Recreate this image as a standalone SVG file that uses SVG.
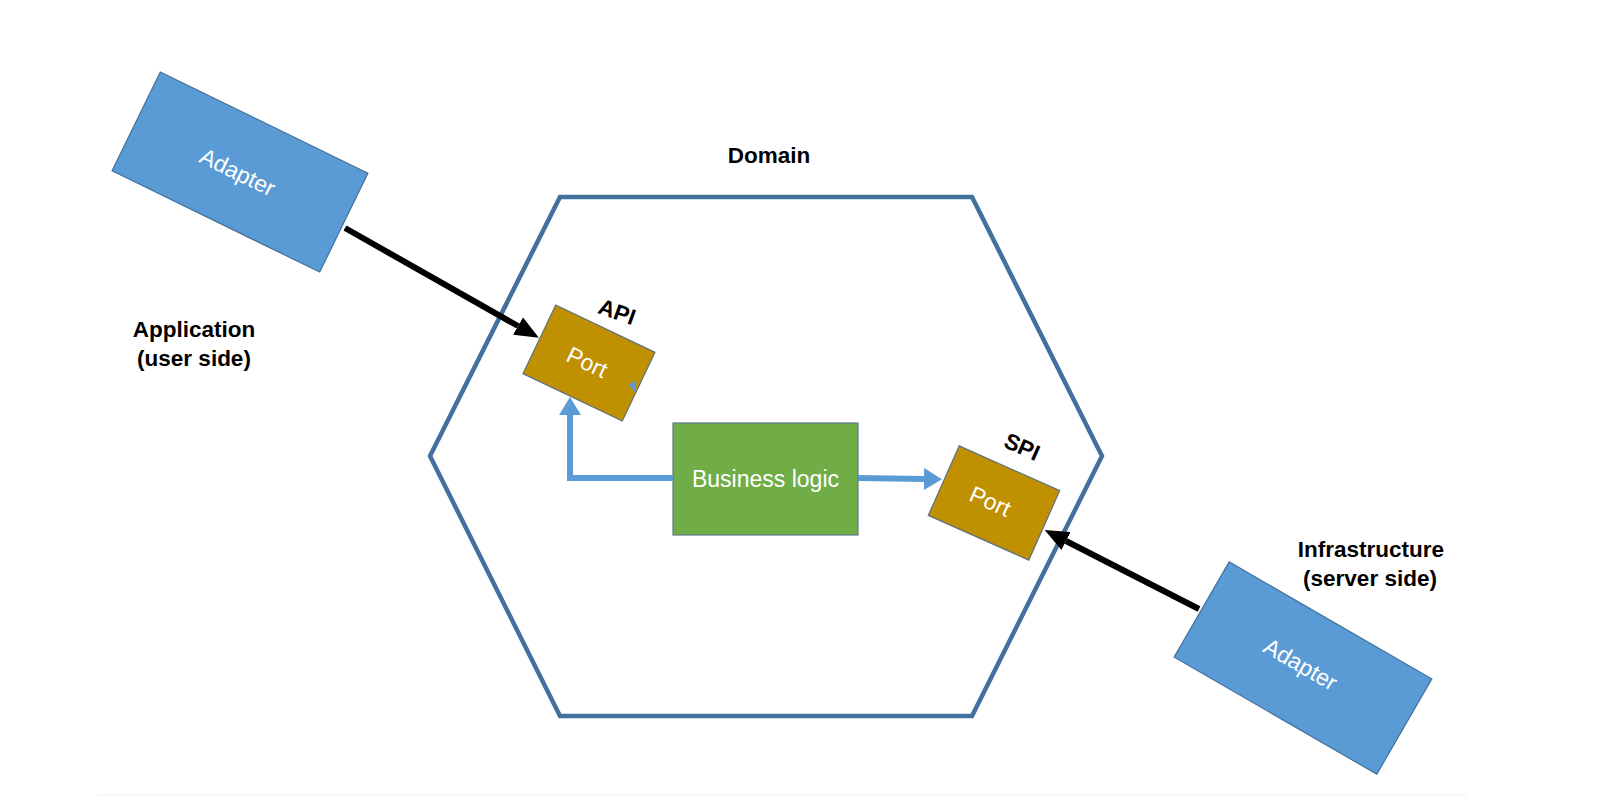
<svg xmlns="http://www.w3.org/2000/svg" width="1617" height="806" viewBox="0 0 1617 806">
  <style>
    .bold { font-family: "Liberation Sans", Arial, sans-serif; font-weight: bold; font-size: 22.5px; fill: #000; }
    .label { font-family: "Liberation Sans", Arial, sans-serif; font-size: 23px; fill: #ffffff; text-anchor: middle; }
    .adapter { fill: #5B9BD5; stroke: #41719C; stroke-width: 1.2; }
    .port { fill: #BF9000; stroke: #5f6f80; stroke-width: 1.2; }
    .logic { fill: #70AD47; stroke: #5a7a8a; stroke-width: 1.2; }
    .hex { fill: none; stroke: #41719C; stroke-width: 4.5; stroke-linejoin: miter; }
    .black { fill: none; stroke: #000; stroke-width: 6; }
    .blue { fill: none; stroke: #5B9BD5; stroke-width: 6; }
  </style>
  <defs>
    <marker id="ahBlack" markerUnits="userSpaceOnUse" viewBox="0 0 24 20" markerWidth="24" markerHeight="20" refX="0" refY="10" orient="auto">
      <path d="M0,0 L24,10 L0,20 z" fill="#000"/>
    </marker>
    <marker id="ahBlue" markerUnits="userSpaceOnUse" viewBox="0 0 18 22" markerWidth="18" markerHeight="22" refX="0" refY="11" orient="auto">
      <path d="M0,0 L18,11 L0,22 z" fill="#5B9BD5"/>
    </marker>
  </defs>
  <rect width="1617" height="806" fill="#ffffff"/>
  <line x1="98" y1="795" x2="1467" y2="795" stroke="#eeeeee" stroke-width="1"/>

  <g id="domain">
    <polygon class="hex" points="560,197 972,197 1102,456 972,716 560,716 430,456"/>
    <text class="bold" x="769" y="163" text-anchor="middle">Domain</text>
  </g>

  <g id="application-label">
    <text class="bold" x="194" y="337" text-anchor="middle">Application</text>
    <text class="bold" x="194" y="366" text-anchor="middle">(user side)</text>
  </g>

  <g id="infrastructure-label">
    <text class="bold" x="1371" y="557" text-anchor="middle">Infrastructure</text>
    <text class="bold" x="1370" y="586" text-anchor="middle">(server side)</text>
  </g>

  <g id="adapter-app" transform="translate(240,172) rotate(26)">
    <rect class="adapter" x="-115.5" y="-55" width="231" height="110"/>
    <text class="label" x="-2" y="9" font-size="25">Adapter</text>
  </g>

  <g id="adapter-infra" transform="translate(1303,668) rotate(30)">
    <rect class="adapter" x="-117" y="-55" width="234" height="110"/>
    <text class="label" x="-4" y="6" font-size="25">Adapter</text>
  </g>

  <g id="port-api">
    <g transform="translate(589,363) rotate(25.5)">
      <rect class="port" x="-55" y="-38" width="110" height="76"/>
      <text class="label" x="-2" y="8" font-size="24">Port</text>
    </g>
    <text class="bold" x="617" y="312" text-anchor="middle" dominant-baseline="central" font-size="21" transform="rotate(20 617 312)">API</text>
  </g>

  <g id="port-spi">
    <g transform="translate(994,503) rotate(24)">
      <rect class="port" x="-55" y="-38" width="110" height="76"/>
      <text class="label" x="-4" y="8" font-size="24">Port</text>
    </g>
    <text class="bold" x="1022" y="447" text-anchor="middle" dominant-baseline="central" font-size="21" transform="rotate(24 1022 447)">SPI</text>
  </g>

  <g id="business-logic">
    <rect class="logic" x="673" y="423" width="185" height="112"/>
    <text class="label" x="765.5" y="487">Business logic</text>
  </g>

  <g id="connectors">
    <line class="black" x1="345" y1="228" x2="518" y2="326" marker-end="url(#ahBlack)"/>
    <line class="black" x1="1199" y1="609" x2="1066" y2="541" marker-end="url(#ahBlack)"/>
    <path class="blue" d="M673,478 H570 V415" marker-end="url(#ahBlue)"/>
    <line class="blue" x1="858" y1="478" x2="924" y2="479" marker-end="url(#ahBlue)"/>
    <path d="M629,385 L636,380 L635,392 z" fill="#5B9BD5"/>
  </g>
</svg>
